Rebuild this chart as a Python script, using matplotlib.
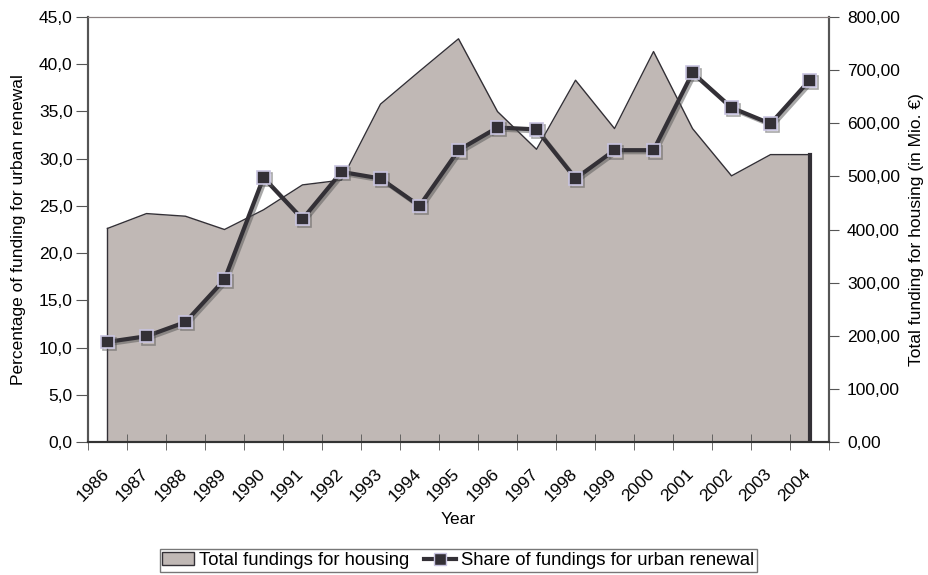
import numpy as np
import matplotlib
matplotlib.use('Agg')
import matplotlib.pyplot as plt
import matplotlib.patheffects as pe
from matplotlib.patches import Patch
from matplotlib.lines import Line2D
from matplotlib.ticker import FuncFormatter, MultipleLocator
import matplotlib.transforms as mtransforms

plt.rcParams['font.family'] = ['Liberation Sans', 'DejaVu Sans']
plt.rcParams['font.size'] = 12.5

years = ['1986', '1987', '1988', '1989', '1990', '1991', '1992', '1993', '1994', '1995',
         '1996', '1997', '1998', '1999', '2000', '2001', '2002', '2003', '2004']
# total funding for housing (Mio. EUR), right axis
total = [402, 430, 425, 400, 437, 484, 493, 636, 698, 759,
         622, 551, 681, 590, 735, 590, 501, 541, 541]
# share of funding for urban renewal (%), left axis
share = [10.6, 11.2, 12.7, 17.2, 28.0, 23.6, 28.6, 27.9, 25.0, 30.9,
         33.3, 33.1, 27.9, 30.9, 30.9, 39.1, 35.4, 33.7, 38.3]

fill_col = '#c0b8b5'
dark = '#333036'

fig = plt.figure(figsize=(9.29, 5.75), dpi=100)
ax = fig.add_axes([0.0947, 0.2313, 0.7977, 0.7391])
ax2 = ax.twinx()

x = np.arange(len(years))

# area on the right axis
ax2.fill_between(x, total, 0, color=fill_col, lw=0)
ax2.plot(x, total, color=dark, lw=1)
ax2.plot([x[0], x[0]], [0, total[0]], color=dark, lw=1)
ax2.plot([x[-1], x[-1]], [0, total[-1]], color=dark, lw=3)
ax2.set_ylim(0, 800)
ax2.yaxis.set_major_locator(MultipleLocator(100))
ax2.yaxis.set_major_formatter(FuncFormatter(lambda v, p: ('%.2f' % v).replace('.', ',')))
ax2.set_ylabel('Total funding for housing (in Mio. \u20ac)')
ax2.yaxis.set_label_coords(1.1174, 0.5)
ax2.yaxis.label.set_va('center')

# line on the left axis, drawn above the area
ax.set_zorder(ax2.get_zorder() + 1)
ax.patch.set_visible(False)
ax.plot(x, share, color=dark, lw=3, marker='s', ms=9, mfc=dark, mec='#c8c4e0', mew=1.2,
        path_effects=[pe.SimpleLineShadow(offset=(1.5, -1.5), shadow_color='#555', alpha=0.5), pe.Normal()])
ax.set_ylim(0, 45)
ax.yaxis.set_major_locator(MultipleLocator(5))
ax.yaxis.set_major_formatter(FuncFormatter(lambda v, p: ('%.1f' % v).replace('.', ',')))
ax.set_ylabel('Percentage of funding for urban renewal')
ax.yaxis.set_label_coords(-0.0938, 0.5)
ax.yaxis.label.set_va('center')

ax.set_xlim(-0.5, len(years) - 0.5)
ax.set_xticks(x)
ax.set_xticklabels(years, rotation=45, ha='right', va='center', rotation_mode='anchor')
ax.set_xticks(np.arange(len(years) + 1) - 0.5, minor=True)
ax.tick_params(axis='x', which='major', length=0, pad=21)
ax.tick_params(axis='x', which='minor', length=12, direction='inout', color='#555')
offset = mtransforms.ScaledTranslation(-1 / 100, 0, fig.dpi_scale_trans)
for lab in ax.get_xticklabels():
    lab.set_transform(lab.get_transform() + offset)
ax.set_xlabel('Year')
ax.xaxis.set_label_coords(0.5, -0.1835)
ax.xaxis.label.set_va('center')

ax.tick_params(axis='y', length=9, direction='out', color='#555', pad=2)
ax2.tick_params(axis='y', length=7, direction='out', color='#555', pad=6)

for a in (ax, ax2):
    a.spines['left'].set_color('#555')
    a.spines['right'].set_color('#555')
    a.spines['bottom'].set_color('#333')
    a.spines['top'].set_color('#8a8080')
    a.spines['left'].set_linewidth(1.5)
    a.spines['right'].set_linewidth(1.5)
    a.spines['bottom'].set_linewidth(1.5)

handles = [Patch(facecolor=fill_col, edgecolor=dark, lw=1),
           Line2D([], [], color=dark, lw=3, marker='s', ms=8, mfc=dark, mec='#c8c4e0')]
leg = fig.legend(handles, ['Total fundings for housing', 'Share of fundings for urban renewal'],
                 loc='center', bbox_to_anchor=(0.4935, 0.025), ncol=2, frameon=True, fancybox=False,
                 edgecolor='#555', handlelength=1.7, handletextpad=0.3, columnspacing=0.8,
                 borderpad=0.15, borderaxespad=0, fontsize=13.3)
leg.get_frame().set_linewidth(1)

fig.savefig('out.png', dpi=100)
